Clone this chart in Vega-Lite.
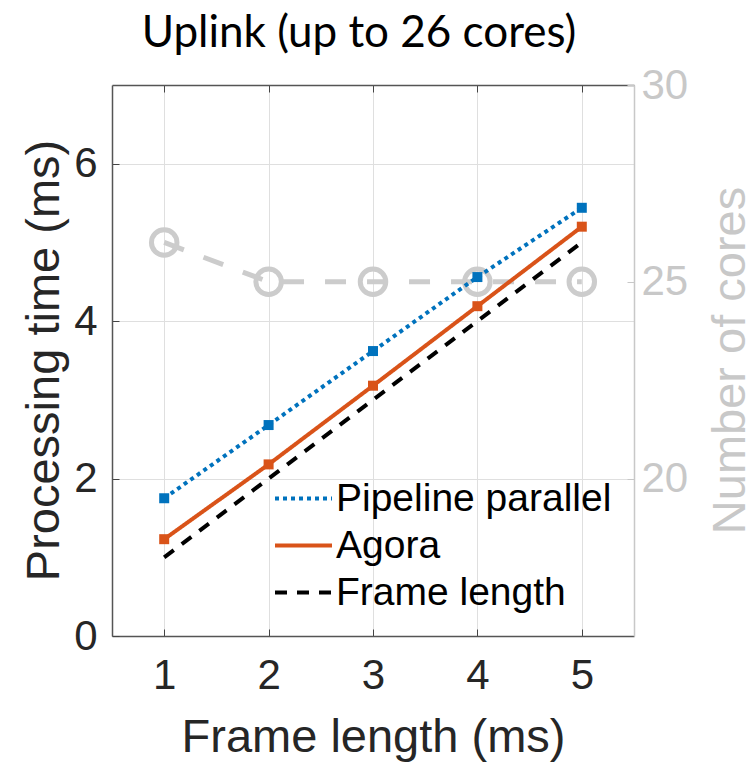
{
  "$schema": "https://vega.github.io/schema/vega-lite/v6.json",
  "width": 522,
  "height": 551,
  "autosize": {"type": "none"},
  "padding": {"left": 112, "top": 85, "right": 119, "bottom": 126},
  "background": "white",
  "config": {
    "view": {"stroke": null},
    "axis": {"labelFont": "Liberation Sans", "titleFont": "Liberation Sans", "titleFontWeight": "normal"},
    "legend": {"labelFont": "Liberation Sans"}
  },
  "title": {
    "text": "Uplink (up to 26 cores)",
    "font": "Lato",
    "fontSize": 44,
    "fontWeight": "normal",
    "color": "#000000",
    "anchor": "middle",
    "frame": "group",
    "baseline": "alphabetic",
    "offset": 10,
    "dy": 37,
    "dx": -14
  },
  "data": {
    "values": [
      {"series": "Pipeline parallel", "frame": 1, "value": 1.75},
      {"series": "Pipeline parallel", "frame": 2, "value": 2.68},
      {"series": "Pipeline parallel", "frame": 3, "value": 3.62},
      {"series": "Pipeline parallel", "frame": 4, "value": 4.56},
      {"series": "Pipeline parallel", "frame": 5, "value": 5.44},
      {"series": "Agora", "frame": 1, "value": 1.23},
      {"series": "Agora", "frame": 2, "value": 2.18},
      {"series": "Agora", "frame": 3, "value": 3.18},
      {"series": "Agora", "frame": 4, "value": 4.19},
      {"series": "Agora", "frame": 5, "value": 5.2},
      {"series": "Frame length", "frame": 1, "value": 1},
      {"series": "Frame length", "frame": 2, "value": 2},
      {"series": "Frame length", "frame": 3, "value": 3},
      {"series": "Frame length", "frame": 4, "value": 4},
      {"series": "Frame length", "frame": 5, "value": 5},
      {"series": "Cores", "frame": 1, "value": 26},
      {"series": "Cores", "frame": 2, "value": 25},
      {"series": "Cores", "frame": 3, "value": 25},
      {"series": "Cores", "frame": 4, "value": 25},
      {"series": "Cores", "frame": 5, "value": 25}
    ]
  },
  "layer": [
    {
      "transform": [{"filter": "datum.series === 'Cores'"}],
      "mark": {"type": "line", "color": "#cccccc", "strokeWidth": 5, "strokeDash": [21, 21]},
      "encoding": {
        "x": {"field": "frame", "type": "quantitative", "scale": {"domain": [0.5, 5.5], "nice": false}, "axis": null},
        "y": {
          "field": "value", "type": "quantitative",
          "scale": {"domain": [16, 30], "nice": false, "zero": false},
          "axis": {
            "orient": "right", "values": [20, 25, 30], "grid": false,
            "tickSize": -7, "tickColor": "#c8c8c8", "domainColor": "#c8c8c8", "domainWidth": 1.5,
            "labelColor": "#c8c8c8", "labelFontSize": 42, "labelPadding": 14,
            "title": "Number of cores", "titleColor": "#c8c8c8", "titleFontSize": 47,
            "titleAngle": 270, "titleX": 110, "titleY": 275, "titleBaseline": "alphabetic"
          }
        }
      }
    },
    {
      "transform": [{"filter": "datum.series === 'Cores'"}],
      "mark": {"type": "point", "shape": "circle", "filled": false, "color": "#cccccc", "strokeWidth": 5, "size": 650, "opacity": 1},
      "encoding": {
        "x": {"field": "frame", "type": "quantitative", "scale": {"domain": [0.5, 5.5], "nice": false}, "axis": null},
        "y": {"field": "value", "type": "quantitative", "scale": {"domain": [16, 30], "nice": false, "zero": false}, "axis": null}
      }
    },
    {
      "transform": [{"filter": "datum.series !== 'Cores'"}],
      "mark": {"type": "line", "strokeWidth": 4, "strokeCap": "butt"},
      "encoding": {
        "x": {
          "field": "frame", "type": "quantitative", "scale": {"domain": [0.5, 5.5], "nice": false},
          "axis": {
            "orient": "bottom", "values": [1, 2, 3, 4, 5], "grid": true, "gridColor": "#dfdfdf", "gridWidth": 1,
            "tickSize": -7, "tickColor": "#444444", "domainColor": "#555555", "domainWidth": 1.5,
            "labelFontSize": 42, "labelColor": "#262626", "labelPadding": 26,
            "title": "Frame length (ms)", "titleFontSize": 47, "titleColor": "#262626",
            "titleY": 115, "titleBaseline": "alphabetic"
          }
        },
        "y": {
          "field": "value", "type": "quantitative", "scale": {"domain": [0, 7], "nice": false},
          "axis": {
            "orient": "left", "values": [0, 2, 4, 6], "grid": true, "gridColor": "#dfdfdf", "gridWidth": 1,
            "tickSize": -7, "tickColor": "#444444", "domainColor": "#555555", "domainWidth": 1.5,
            "labelFontSize": 42, "labelColor": "#262626", "labelPadding": 22,
            "title": "Processing time (ms)", "titleFontSize": 47, "titleColor": "#262626",
            "titleAngle": 270, "titleX": -54, "titleY": 275, "titleBaseline": "alphabetic"
          }
        },
        "color": {
          "field": "series", "type": "nominal",
          "scale": {"domain": ["Pipeline parallel", "Agora", "Frame length"], "range": ["#0072BD", "#D95319", "#000000"]},
          "legend": {
            "title": null, "orient": "none", "legendX": 161, "legendY": 390,
            "symbolType": "stroke", "symbolSize": 3249, "symbolStrokeWidth": 4,
            "labelFontSize": 39, "labelColor": "#000000", "labelOffset": 2, "labelLimit": 500,
            "clipHeight": 47, "rowPadding": 0, "padding": 0
          }
        },
        "strokeDash": {
          "field": "series", "type": "nominal",
          "scale": {"domain": ["Pipeline parallel", "Agora", "Frame length"], "range": [[4, 4], [1, 0], [12, 10]]},
          "legend": {
            "title": null, "orient": "none", "legendX": 161, "legendY": 390,
            "symbolType": "stroke", "symbolSize": 3249, "symbolStrokeWidth": 4,
            "labelFontSize": 39, "labelColor": "#000000", "labelOffset": 2, "labelLimit": 500,
            "clipHeight": 47, "rowPadding": 0, "padding": 0
          }
        }
      }
    },
    {
      "transform": [{"filter": "datum.series === 'Pipeline parallel' || datum.series === 'Agora'"}],
      "mark": {"type": "point", "shape": "square", "filled": true, "size": 100, "opacity": 1},
      "encoding": {
        "x": {
          "field": "frame", "type": "quantitative", "scale": {"domain": [0.5, 5.5], "nice": false},
          "axis": {
            "orient": "top", "values": [1, 2, 3, 4, 5], "grid": false, "labels": false, "title": null,
            "tickSize": -7, "tickColor": "#444444", "domainColor": "#555555", "domainWidth": 1.5
          }
        },
        "y": {"field": "value", "type": "quantitative", "scale": {"domain": [0, 7], "nice": false}, "axis": null},
        "color": {"field": "series", "type": "nominal", "scale": {"domain": ["Pipeline parallel", "Agora", "Frame length"], "range": ["#0072BD", "#D95319", "#000000"]}}
      }
    }
  ],
  "resolve": {"scale": {"y": "independent"}, "axis": {"x": "independent"}}
}
